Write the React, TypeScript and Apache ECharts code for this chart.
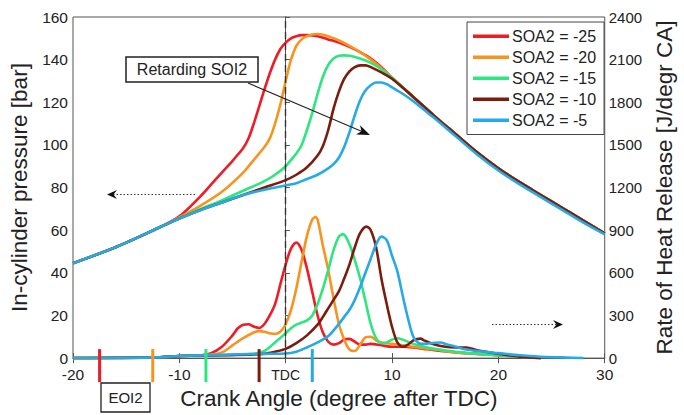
import { useEffect, useRef } from "react";
import * as echarts from "echarts";

const names = ["SOA2 = -25", "SOA2 = -20", "SOA2 = -15", "SOA2 = -10", "SOA2 = -5"];
const colors = ["#ee1c25", "#f7941d", "#2ee67e", "#7b1c0c", "#27a9e8"];

// In-cylinder pressure [bar]
const pRedX = [-20, -16, -12, -10, -8, -7, -6, -5, -4.5, -4, -3.5, -3, -2.5, -2, -1.5, -1, -0.5, 0, 0.5, 1, 1.5, 2, 3, 4, 5, 6, 7, 8, 9, 10, 12, 14, 16, 18, 20, 22, 24, 26, 28, 30];
const pRedY = [44.5, 52, 61, 66.5, 76, 81.5, 87, 92.5, 95.5, 98.5, 103, 110, 118, 126, 133.5, 140, 145, 148, 150, 151, 151.5, 151.5, 151, 149.5, 148, 146, 143.5, 140.5, 136.5, 131.5, 122.5, 113.5, 105, 96.5, 89, 82.5, 76.5, 70.5, 64.5, 58.5];

const pOrangeX = [-20, -16, -12, -10, -8, -6, -4, -3, -2, -1.5, -1, -0.5, 0, 0.5, 1, 1.5, 2, 2.5, 3, 4, 5, 6, 7, 8, 9, 10, 12, 14, 16, 18, 20, 22, 24, 26, 28, 30];
const pOrangeY = [44.5, 52, 61, 66, 71.5, 78, 87, 93, 99, 103, 110, 119, 130, 140, 146.5, 149.5, 151, 151.8, 152, 151, 149, 146.5, 143.5, 140, 136, 131.5, 122.5, 113.5, 105, 96.5, 89, 82.5, 76.5, 70.5, 64.5, 58.5];

const pGreenX = [-20, -16, -12, -10, -8, -6, -4, -2, -1, 0, 0.5, 1, 1.5, 2, 2.5, 3, 3.5, 4, 4.5, 5, 5.5, 6, 7, 8, 9, 10, 12, 14, 16, 18, 20, 22, 24, 26, 28, 30];
const pGreenY = [44.5, 52, 61, 65.5, 70, 74, 78.5, 83, 86, 90, 93, 96, 100, 107, 115, 124, 132, 137.5, 140.5, 141.8, 142, 141.8, 140.5, 138.5, 135.5, 131.5, 122.5, 113.5, 105, 96.5, 89, 82.5, 76.5, 70.5, 64.5, 58.5];

const pBrownX = [-20, -16, -12, -10, -8, -6, -4, -2, 0, 1, 2, 3, 3.5, 4, 4.5, 5, 5.5, 6, 6.5, 7, 7.5, 8, 9, 10, 12, 14, 16, 18, 20, 22, 24, 26, 28, 30];
const pBrownY = [44.5, 52, 61, 65.5, 69.5, 73, 76.5, 80, 83.5, 86, 89.5, 95, 99.5, 107, 117, 125, 131, 134.5, 136.5, 137.3, 137.3, 136.5, 134, 131, 122.5, 113.5, 105, 96.5, 89, 82.5, 76.5, 70.5, 64.5, 58.5];

const pBlueX = [-20, -16, -12, -10, -8, -6, -4, -2, 0, 1, 2, 3, 4, 4.5, 5, 5.5, 6, 6.5, 7, 7.5, 8, 8.5, 9, 9.5, 10, 11, 12, 13, 14, 16, 18, 20, 22, 24, 26, 28, 30];
const pBlueY = [44.5, 52, 61, 65.5, 69.5, 73, 76.5, 79, 81, 82, 84, 86, 89, 91, 94, 99, 106, 114, 121, 125.5, 128, 129.3, 129.3, 128.5, 127, 124, 120.5, 116.5, 112.5, 104, 95.5, 88, 81.5, 75.5, 69.5, 63.5, 58];

// Rate of heat release [J/degr CA]
const hRedX = [-20, -12, -10, -8, -7, -6, -5, -4.5, -4, -3.5, -3, -2.5, -2, -1.5, -1, -0.5, 0, 0.5, 1, 1.5, 2, 2.5, 3, 3.5, 4, 4.5, 5, 5.5, 6, 6.5, 7, 7.5, 8, 9, 10, 11, 12, 13, 14, 16, 18, 20, 22, 24];
const hRedY = [0, 5, 15, 20, 35, 80, 160, 210, 235, 238, 222, 212, 240, 300, 380, 520, 660, 770, 813, 760, 630, 465, 300, 180, 115, 95, 105, 130, 135, 115, 95, 95, 100, 90, 80, 80, 75, 65, 55, 40, 30, 20, 10, 0];

const hOrangeX = [-20, -12, -10, -8, -7, -6, -5, -4, -3, -2.5, -2, -1.5, -1, -0.5, 0, 0.5, 1, 1.5, 2, 2.5, 2.8, 3, 3.5, 4, 4.5, 5, 5.5, 6, 6.5, 7, 7.5, 8, 8.5, 9, 10, 11, 12, 13, 14, 16, 18, 20, 22, 24];
const hOrangeY = [0, 5, 15, 20, 25, 40, 90, 140, 180, 190, 185, 175, 170, 185, 240, 340, 490, 680, 860, 975, 992, 975, 790, 620, 420, 240, 130, 60, 50, 95, 145, 150, 125, 110, 100, 90, 80, 70, 60, 40, 30, 20, 10, 0];

const hGreenX = [-20, -12, -10, -6, -4, -3, -2, -1, 0, 0.5, 1, 1.5, 2, 2.5, 3, 3.5, 4, 4.5, 5, 5.4, 6, 6.5, 7, 7.5, 8, 8.5, 9, 9.5, 10, 10.5, 11, 12, 13, 14, 16, 18, 20, 22, 24];
const hGreenY = [0, 5, 15, 20, 25, 30, 50, 110, 175, 210, 235, 250, 265, 300, 380, 490, 620, 760, 855, 872, 800, 690, 560, 400, 240, 140, 105, 110, 130, 140, 130, 100, 80, 65, 45, 30, 20, 10, 0];

const hBrownX = [-20, -12, -10, -6, -3, -2, -1, 0, 1, 2, 3, 3.5, 4, 4.5, 5, 5.5, 6, 6.5, 7, 7.6, 8, 8.5, 9, 9.5, 10, 10.5, 11, 11.5, 12, 12.7, 13, 14, 15, 16, 17, 18, 20, 22, 24];
const hBrownY = [0, 5, 15, 20, 25, 30, 45, 65, 105, 160, 235, 290, 350, 410, 470, 560, 660, 780, 880, 925, 900, 780, 560, 380, 220, 110, 80, 95, 125, 137, 125, 95, 80, 75, 75, 55, 30, 10, 0];

const hBlueX = [-20, -12, -10, -5, -2, 0, 1, 2, 3, 4, 5, 5.5, 6, 6.5, 7, 7.5, 8, 8.5, 9, 9.5, 10, 10.5, 11, 11.5, 12, 12.5, 13, 14, 14.6, 15, 16, 17, 18, 20, 22, 24, 26, 28];
const hBlueY = [0, 5, 15, 25, 30, 32, 45, 75, 110, 155, 240, 290, 340, 410, 500, 600, 700, 800, 855, 830, 720, 610, 440, 280, 150, 105, 100, 108, 110, 100, 80, 60, 50, 35, 20, 10, 5, 0];

const eoi2 = [-17.5, -12.5, -7.5, -2.5, 2.5];
const xTicks = { min: -20, max: 30, interval: 10 };
const pTicks = { min: 0, max: 160, interval: 20 };
const hTicks = { min: 0, max: 2400, interval: 300 };

const FONT = "'Liberation Sans', Arial, sans-serif";

const zip = (xs: number[], ys: number[]) => xs.map((x, i) => [x, ys[i]]);

export default function App() {
  const ref = useRef<HTMLDivElement>(null);
  useEffect(() => {
    if (!ref.current) return;
    const chart = echarts.init(ref.current, undefined, { renderer: "svg" });
    const pSets = [
      [pRedX, pRedY],
      [pOrangeX, pOrangeY],
      [pGreenX, pGreenY],
      [pBrownX, pBrownY],
      [pBlueX, pBlueY],
    ];
    const hSets = [
      [hRedX, hRedY],
      [hOrangeX, hOrangeY],
      [hGreenX, hGreenY],
      [hBrownX, hBrownY],
      [hBlueX, hBlueY],
    ];
    const lineBase = {
      type: "line" as const,
      symbol: "none",
      smooth: 0.3,
      z: 3,
    };
    const series: any[] = [];
    pSets.forEach(([xs, ys], i) => {
      series.push({
        ...lineBase,
        name: names[i],
        yAxisIndex: 0,
        data: zip(xs, ys),
        lineStyle: { color: colors[i], width: 2.6 },
        itemStyle: { color: colors[i] },
      });
    });
    hSets.forEach(([xs, ys], i) => {
      series.push({
        ...lineBase,
        name: names[i],
        yAxisIndex: 1,
        data: zip(xs, ys),
        lineStyle: { color: colors[i], width: 2.6 },
        itemStyle: { color: colors[i] },
      });
    });
    // dashed TDC line
    series.push({
      type: "line",
      data: [],
      yAxisIndex: 0,
      markLine: {
        silent: true,
        symbol: "none",
        label: { show: false },
        lineStyle: { color: "#333", type: [7, 4], width: 1.4 },
        data: [{ xAxis: 0 }],
      },
    });

    const axisLine = { lineStyle: { color: "#555", width: 1 } };
    const labelStyle = { color: "#222", fontSize: 15.5, fontFamily: FONT };
    chart.setOption({
      animation: false,
      backgroundColor: "#fff",
      grid: {
        left: 73,
        right: 76,
        top: 17,
        bottom: 47,
        containLabel: false,
        show: true,
        borderColor: "#555",
        borderWidth: 1,
      },
      legend: {
        data: names,
        left: 467,
        top: 22,
        orient: "vertical",
        icon: "rect",
        itemWidth: 36,
        itemHeight: 3.5,
        itemGap: 4.5,
        padding: [6, 8, 6, 6],
        borderColor: "#444",
        borderWidth: 1,
        backgroundColor: "#fff",
        selectedMode: false,
        textStyle: { fontSize: 16, fontFamily: FONT, color: "#222", lineHeight: 16.5, padding: [0, 0, 0, -2] },
      },
      xAxis: [
        {
          type: "value",
          ...xTicks,
          position: "bottom",
          axisLine,
          splitLine: { show: false },
          axisTick: { inside: true, length: 5, lineStyle: { color: "#555" } },
          axisLabel: {
            ...labelStyle,
            margin: 8,
            formatter: (v: number) => (v === 0 ? "{t|TDC}" : String(v)),
            rich: { t: { fontSize: 14, fontFamily: FONT, color: "#222", padding: [2, 0, 0, 0] } },
          },
          name: "Crank Angle (degree after TDC)",
          nameLocation: "middle",
          nameGap: 19,
          nameTextStyle: { fontSize: 22.5, fontFamily: FONT, color: "#222" },
        },
        {
          type: "value",
          ...xTicks,
          position: "top",
          axisLine,
          splitLine: { show: false },
          axisTick: { inside: true, length: 5, lineStyle: { color: "#555" } },
          axisLabel: { show: false },
        },
      ],
      yAxis: [
        {
          type: "value",
          ...pTicks,
          position: "left",
          axisLine: { show: true, ...axisLine },
          splitLine: { show: false },
          axisTick: { show: true, inside: true, length: 4, lineStyle: { color: "#555" } },
          axisLabel: { ...labelStyle, margin: 5 },
          name: "In-cylinder pressure [bar]",
          nameLocation: "middle",
          nameGap: 39,
          nameTextStyle: { fontSize: 22.5, fontFamily: FONT, color: "#222" },
        },
        {
          type: "value",
          ...hTicks,
          position: "right",
          axisLine: { show: true, ...axisLine },
          splitLine: { show: false },
          axisTick: { show: true, inside: false, length: 4, lineStyle: { color: "#555" } },
          axisLabel: { ...labelStyle, fontSize: 15, margin: 4, formatter: (v: number) => String(v) },
          name: "Rate of Heat Release [J/degr CA]",
          nameLocation: "middle",
          nameGap: 45,
          nameTextStyle: { fontSize: 22.5, fontFamily: FONT, color: "#222" },
        },
      ],
      series,
    });

    // Annotations
    const graphics: any[] = [];
    const y0 = chart.convertToPixel({ yAxisIndex: 0 }, 0) as number;
    eoi2.forEach((x, i) => {
      const px = chart.convertToPixel({ xAxisIndex: 0 }, x) as number;
      graphics.push({
        type: "line",
        shape: { x1: px, y1: y0 - 9, x2: px, y2: y0 + 24 },
        style: { stroke: colors[i], lineWidth: 3 },
        z: 10,
      });
    });
    graphics.push(
      {
        type: "rect",
        shape: { x: 101, y: 383, width: 49, height: 29 },
        style: { fill: "#fff", stroke: "#222", lineWidth: 1.3 },
        z: 10,
      },
      {
        type: "text",
        x: 125.5,
        y: 397.5,
        style: { text: "EOI2", fontSize: 15, fontFamily: FONT, fill: "#222", align: "center", verticalAlign: "middle" },
        z: 11,
      },
      {
        type: "rect",
        shape: { x: 126, y: 57, width: 132, height: 25 },
        style: { fill: "#fff", stroke: "#222", lineWidth: 1.5 },
        z: 10,
      },
      {
        type: "text",
        x: 192,
        y: 69.5,
        style: { text: "Retarding SOI2", fontSize: 16, fontFamily: FONT, fill: "#222", align: "center", verticalAlign: "middle" },
        z: 11,
      },
      {
        type: "line",
        shape: { x1: 248, y1: 83, x2: 362, y2: 131.5 },
        style: { stroke: "#222", lineWidth: 1.1 },
        z: 10,
      },
      {
        type: "polygon",
        shape: { points: [[370, 135], [356, 134.5], [361.5, 131.3], [360, 125.3]] },
        style: { fill: "#111" },
        z: 10,
      },
      {
        type: "line",
        shape: { x1: 195, y1: 194.5, x2: 113, y2: 194.5 },
        style: { stroke: "#333", lineWidth: 1.2, lineDash: [1.5, 2] },
        z: 10,
      },
      {
        type: "polygon",
        shape: { points: [[107, 194.5], [117, 190], [113.5, 194.5], [117, 199]] },
        style: { fill: "#111" },
        z: 10,
      },
      {
        type: "line",
        shape: { x1: 492, y1: 324.5, x2: 557, y2: 324.5 },
        style: { stroke: "#333", lineWidth: 1.2, lineDash: [1.5, 2] },
        z: 10,
      },
      {
        type: "polygon",
        shape: { points: [[563, 324.5], [553, 320], [556.5, 324.5], [553, 329]] },
        style: { fill: "#111" },
        z: 10,
      }
    );
    chart.setOption({ graphic: graphics });

    return () => chart.dispose();
  }, []);
  return (
    <div
      ref={ref}
      style={{ position: "fixed", left: 0, top: 0, width: 684, height: 415, background: "#fff" }}
    />
  );
}
